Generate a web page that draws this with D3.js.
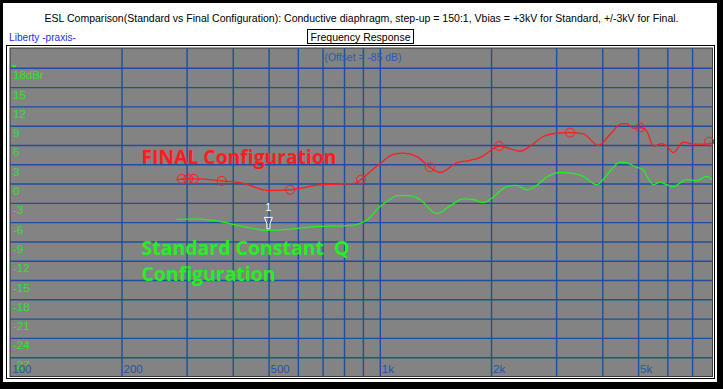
<!DOCTYPE html>
<html><head><meta charset="utf-8">
<script src="https://cdn.jsdelivr.net/npm/d3@7"></script>
<style>html,body{margin:0;padding:0;background:#fff;overflow:hidden}</style>
</head><body>
<script>
// ---------- data ----------
const finalFreq = [281,300,320,372,420,498,570,694,850,887,950,1000,1040,1084,1153,1253,1362,1451,1609,1748,1861,2002,2099,2244,2389,2543,2762,3002,3262,3543,3890,4184,4500,4643,4840,5047,5263,5486,5776,5960,6210,6607,7031,7643,7900];
const finalDb   = [0.7,0.8,0.8,0.5,0.2,-1.0,-0.9,-0.1,0.1,0.7,2.2,3.2,4.0,4.6,4.8,4.3,2.6,1.8,3.3,3.7,4.1,5.3,5.9,5.5,5.1,5.9,7.4,7.9,8.0,7.8,6.0,7.7,9.4,9.4,8.7,8.8,8.2,5.9,6.3,5.9,4.9,6.5,6.2,6.2,6.4];
const stdFreq = [281,318,368,417,498,570,673,795,863,919,998,1062,1108,1203,1280,1421,1544,1677,1785,1900,2002,2198,2340,2490,2651,2822,3064,3262,3543,3851,4184,4454,4643,4943,5100,5486,5715,5960,6210,6745,7180,7643,7900];
const stdDb   = [-5.5,-5.4,-5.8,-6.5,-7.2,-7.0,-6.6,-6.5,-6.3,-5.6,-3.5,-2.4,-1.8,-1.8,-2.4,-4.6,-3.4,-2.3,-2.4,-2.9,-2.2,-0.4,-0.2,-0.9,-0.2,1.1,1.8,1.7,1.2,-0.1,2.0,3.4,3.3,2.6,2.4,-0.1,0.3,-0.1,-0.4,0.7,0.5,1.2,0.7];
const circleFreq = [290,302,313,372,570,887,1362,2099,3262,5047,7762];
const circleDb   = [0.8,0.8,0.8,0.5,-0.9,0.7,2.6,5.9,8.0,8.8,6.6];
const cursorFreq = 498, cursorDb = -7.2, cursorLabel = "1";
const gridFreqs = [200,300,400,500,600,700,800,900,1000,2000,3000,4000,5000,6000,7000];
const xLabelFreqs = [100,200,500,1000,2000,5000];
const xLabelTexts = ["100","200","500","1k","2k","5k"];
const yTicks  = [18,15,12,9,6,3,0,-3,-6,-9,-12,-15,-18,-21,-24,-27];
const yLabels = ["18dBr","15","12","9","6","3","0","-3","-6","-9","-12","-15","-18","-21","-24","-27"];
const titleText = "ESL Comparison(Standard vs Final Configuration): Conductive diaphragm, step-up = 150:1, Vbias = +3kV for Standard, +/-3kV for Final.";

// ---------- layout ----------
const W = 723, H = 389;
const PL = 10, PR = 712.5, PT = 48, PB = 376.5;
const x = d3.scaleLog().domain([100, 7900]).range([10.8, 712]);
const y = d3.scaleLinear().domain([-30, 21]).range([377, 49]);

const svg = d3.select("body").append("svg").attr("width", W).attr("height", H)
  .style("font-family", "'Liberation Sans', Arial, sans-serif");

// frame
svg.append("rect").attr("width", W).attr("height", H).attr("fill", "#000");
svg.append("rect").attr("x", 3).attr("y", 3).attr("width", 714).attr("height", 379).attr("fill", "#fff");
svg.append("rect").attr("x", 6.5).attr("y", 45.5).attr("width", 708).attr("height", 333)
  .attr("fill", "none").attr("stroke", "#000").attr("stroke-width", 1);
svg.append("rect").attr("x", PL).attr("y", PT).attr("width", PR - PL).attr("height", PB - PT)
  .attr("fill", "#838383").attr("stroke", "#3a3a3a").attr("stroke-width", 1);

// title
svg.append("text").attr("x", 361.5).attr("y", 22).attr("text-anchor", "middle")
  .attr("font-size", 11.5).attr("fill", "#000")
  .attr("textLength", 634).attr("lengthAdjust", "spacingAndGlyphs").text(titleText);
svg.append("text").attr("x", 9).attr("y", 41).attr("font-size", 11.5).attr("fill", "#1f2cff")
  .attr("textLength", 67).attr("lengthAdjust", "spacingAndGlyphs").text("Liberty -praxis-");
svg.append("rect").attr("x", 307.5).attr("y", 29.5).attr("width", 106).attr("height", 14)
  .attr("fill", "#fff").attr("stroke", "#000");
svg.append("text").attr("x", 360.5).attr("y", 40.5).attr("text-anchor", "middle").attr("font-size", 11.5)
  .attr("fill", "#000").attr("textLength", 100).attr("lengthAdjust", "spacingAndGlyphs").text("Frequency Response");

const plot = svg.append("g");
const gridColor = "#1d4f9e";

// horizontal grid
plot.selectAll("line.h").data(yTicks).join("line").attr("class", "h")
  .attr("x1", PL).attr("x2", PR).attr("y1", d => y(d)).attr("y2", d => y(d))
  .attr("stroke", gridColor).attr("stroke-width", 1.4);
// vertical grid
plot.selectAll("line.v").data(gridFreqs).join("line").attr("class", "v")
  .attr("x1", d => x(d)).attr("x2", d => x(d)).attr("y1", PT).attr("y2", PB)
  .attr("stroke", gridColor).attr("stroke-width", 1.4);

// offset text
plot.append("text").attr("x", 363).attr("y", 61).attr("text-anchor", "middle").attr("font-size", 11.5)
  .attr("fill", "#2a5cb4").attr("textLength", 77).attr("lengthAdjust", "spacingAndGlyphs").text("(Offset = -85 dB)");

// y labels
plot.selectAll("text.yl").data(yTicks).join("text").attr("class", "yl")
  .attr("x", 13).attr("y", d => y(d) + 11).attr("font-size", 11.5).attr("fill", "#2be32b")
  .text((d, i) => yLabels[i]);
plot.append("rect").attr("x", 12).attr("y", y(18) - 3.5).attr("width", 4).attr("height", 2.5).attr("fill", "#2be32b");

// x labels
plot.selectAll("text.xl").data(xLabelFreqs).join("text").attr("class", "xl")
  .attr("x", d => x(d) + 1.5).attr("y", 372.5).attr("font-size", 11.5).attr("fill", "#2455a8")
  .text((d, i) => xLabelTexts[i]);

// curves
const line = d3.line().x(d => x(d[0])).y(d => y(d[1])).curve(d3.curveMonotoneX);
plot.append("path").datum(stdFreq.map((f, i) => [f, stdDb[i]]))
  .attr("d", line).attr("fill", "none").attr("stroke", "#22f022").attr("stroke-width", 1.3);
plot.append("path").datum(finalFreq.map((f, i) => [f, finalDb[i]]))
  .attr("d", line).attr("fill", "none").attr("stroke", "#ff1c1c").attr("stroke-width", 1.3);

// circle markers
plot.selectAll("circle.m").data(circleFreq).join("circle").attr("class", "m")
  .attr("cx", d => x(d)).attr("cy", (d, i) => y(circleDb[i])).attr("r", 4.5)
  .attr("fill", "none").attr("stroke", "#ff1c1c").attr("stroke-width", 1);

// cursor marker
const cx = x(cursorFreq), cy = y(cursorDb);
plot.append("path")
  .attr("d", `M${cx-4},${cy-13} L${cx+4},${cy-13} L${cx+1.5},${cy-6.5} L${cx+1.5},${cy-1.5} L${cx-1.5},${cy-1.5} L${cx-1.5},${cy-6.5} Z`)
  .attr("fill", "none").attr("stroke", "#fff").attr("stroke-width", 1);
plot.append("text").attr("x", cx).attr("y", cy - 19).attr("text-anchor", "middle")
  .attr("font-size", 11).attr("fill", "#fff").text(cursorLabel);

// inline legends
const lg = svg.append("g").style("font-family", "'Open Sans', 'DejaVu Sans', sans-serif").style("font-weight", "bold");
lg.append("text").attr("x", 141.5).attr("y", 164).attr("font-size", 19.5).attr("fill", "#ff1c1c")
  .attr("textLength", 195).attr("lengthAdjust", "spacingAndGlyphs").text("FINAL Configuration");
lg.append("text").attr("x", 141.5).attr("y", 254.5).attr("font-size", 19.5).attr("fill", "#22f022")
  .style("white-space", "pre").attr("textLength", 208).attr("lengthAdjust", "spacingAndGlyphs").text("Standard Constant  Q");
lg.append("text").attr("x", 141.5).attr("y", 280.5).attr("font-size", 19.5).attr("fill", "#22f022")
  .attr("textLength", 134).attr("lengthAdjust", "spacingAndGlyphs").text("Configuration");
</script>
</body></html>
